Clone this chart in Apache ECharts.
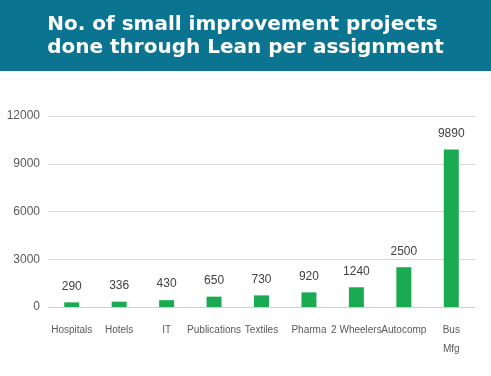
<!DOCTYPE html>
<html>
<head>
<meta charset="utf-8">
<script src="https://cdn.jsdelivr.net/npm/echarts@6/dist/echarts.min.js"></script>
<style>
  html, body { margin: 0; padding: 0; background: #ffffff; }
  #chart { width: 491px; height: 376px; }
</style>
</head>
<body>
<div id="chart"></div>
<script>
const categories = ["Hospitals", "Hotels", "IT", "Publications", "Textiles", "Pharma", "2 Wheelers", "Autocomp", "Bus\nMfg"];
const projects = [290, 336, 430, 650, 730, 920, 1240, 2500, 9890];
const titleLines = ["No. of small improvement projects", "done through Lean per assignment"];

const labelFont = "'Liberation Sans', Arial, sans-serif";

const chart = echarts.init(document.getElementById("chart"), null, { renderer: "canvas" });

chart.setOption({
  animation: false,
  backgroundColor: "#ffffff",
  graphic: [
    {
      type: "rect",
      left: 0,
      top: 0,
      shape: { width: 491, height: 71 },
      style: { fill: "#0b7491" }
    },
    {
      type: "text",
      left: "center",
      top: 13,
      style: {
        text: titleLines.join("\n"),
        fill: "#ffffff",
        font: "bold 20px 'DejaVu Sans', sans-serif",
        lineHeight: 23,
        align: "center"
      }
    }
  ],
  grid: {
    left: 48,
    right: 16,
    top: 116,
    bottom: 69,
    containLabel: false
  },
  xAxis: {
    type: "category",
    data: categories,
    axisTick: { show: false },
    axisLine: { lineStyle: { color: "#d0d0d0", width: 1 } },
    axisLabel: {
      color: "#595959",
      fontFamily: labelFont,
      fontSize: 10,
      margin: 14,
      lineHeight: 19,
      interval: 0
    }
  },
  yAxis: {
    type: "value",
    min: 0,
    max: 12000,
    interval: 3000,
    axisLine: { show: false },
    axisTick: { show: false },
    splitLine: { lineStyle: { color: "#d9d9d9", width: 1 } },
    axisLabel: {
      color: "#595959",
      fontFamily: labelFont,
      fontSize: 12,
      margin: 8,
      formatter: (v) => String(v)
    }
  },
  series: [
    {
      type: "bar",
      data: projects,
      barWidth: 15,
      itemStyle: { color: "#1aab52" },
      label: {
        show: true,
        position: "top",
        distance: 10,
        color: "#404040",
        fontFamily: labelFont,
        fontSize: 12
      }
    }
  ]
});
</script>
</body>
</html>
